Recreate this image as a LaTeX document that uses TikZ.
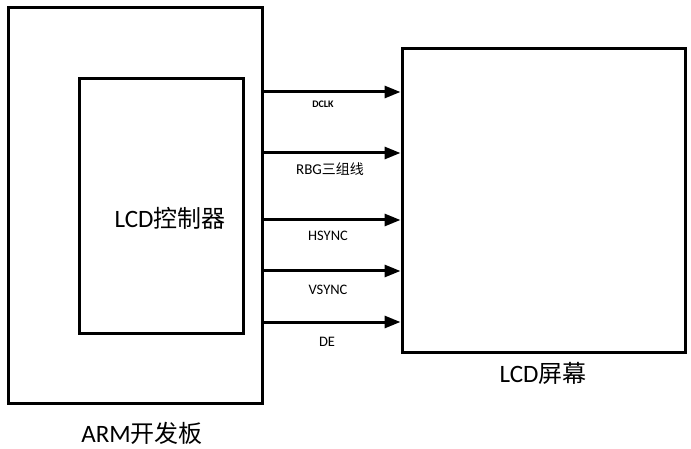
\documentclass[tikz,border=0pt]{standalone}
\usepackage{fontspec}
\setmainfont{Carlito}
\newfontfamily\cjk{Noto Sans CJK SC}
\usetikzlibrary{arrows.meta}
\begin{document}
\begin{tikzpicture}[x=1pt,y=-1pt,
  box/.style={draw=black, line width=3pt, rectangle, inner sep=0pt},
  sig/.style={line width=3pt, -{Triangle[length=16pt,width=12pt]}},
  siglabel/.style={font=\fontsize{14.5}{16}\selectfont, inner sep=0pt},
  biglabel/.style={font=\fontsize{25}{28}\selectfont, inner sep=0pt}]
\useasboundingbox (0,0) rectangle (691,449);
\node[box, minimum width=254pt, minimum height=395pt] (board) at (135,205.5) {};
\node[box, minimum width=164pt, minimum height=254pt] (ctrl) at (161,206) {};
\node[box, minimum width=283pt, minimum height=303pt] (screen) at (543.5,200.5) {};
\node[biglabel] (ctrllabel) at (170,218) {LCD{\cjk\fontsize{24}{26}\selectfont 控制器}};
\node[biglabel] (boardlabel) at (142,433) {ARM{\cjk\fontsize{24}{26}\selectfont 开发板}};
\node[biglabel] (screenlabel) at (543,373) {LCD{\cjk\fontsize{24}{26}\selectfont 屏幕}};
\coordinate (y1) at (0,92);
\coordinate (y2) at (0,153);
\coordinate (y3) at (0,220);
\coordinate (y4) at (0,271);
\coordinate (y5) at (0,322);
\draw[sig] (board.east |- y1) -- (screen.west |- y1);
\draw[sig] (board.east |- y2) -- (screen.west |- y2);
\draw[sig] (board.east |- y3) -- (screen.west |- y3);
\draw[sig] (board.east |- y4) -- (screen.west |- y4);
\draw[sig] (board.east |- y5) -- (screen.west |- y5);
\node[siglabel, font=\fontsize{10}{12}\selectfont\bfseries] (l1) at (323,104) {DCLK};
\node[siglabel, font=\fontsize{15}{17}\selectfont] (l2) at (330,169) {RBG{\cjk\fontsize{14}{16}\selectfont 三组线}};
\node[siglabel] (l3) at (328,236) {HSYNC};
\node[siglabel] (l4) at (328,290) {VSYNC};
\node[siglabel] (l5) at (327,342) {DE};
\end{tikzpicture}
\end{document}
